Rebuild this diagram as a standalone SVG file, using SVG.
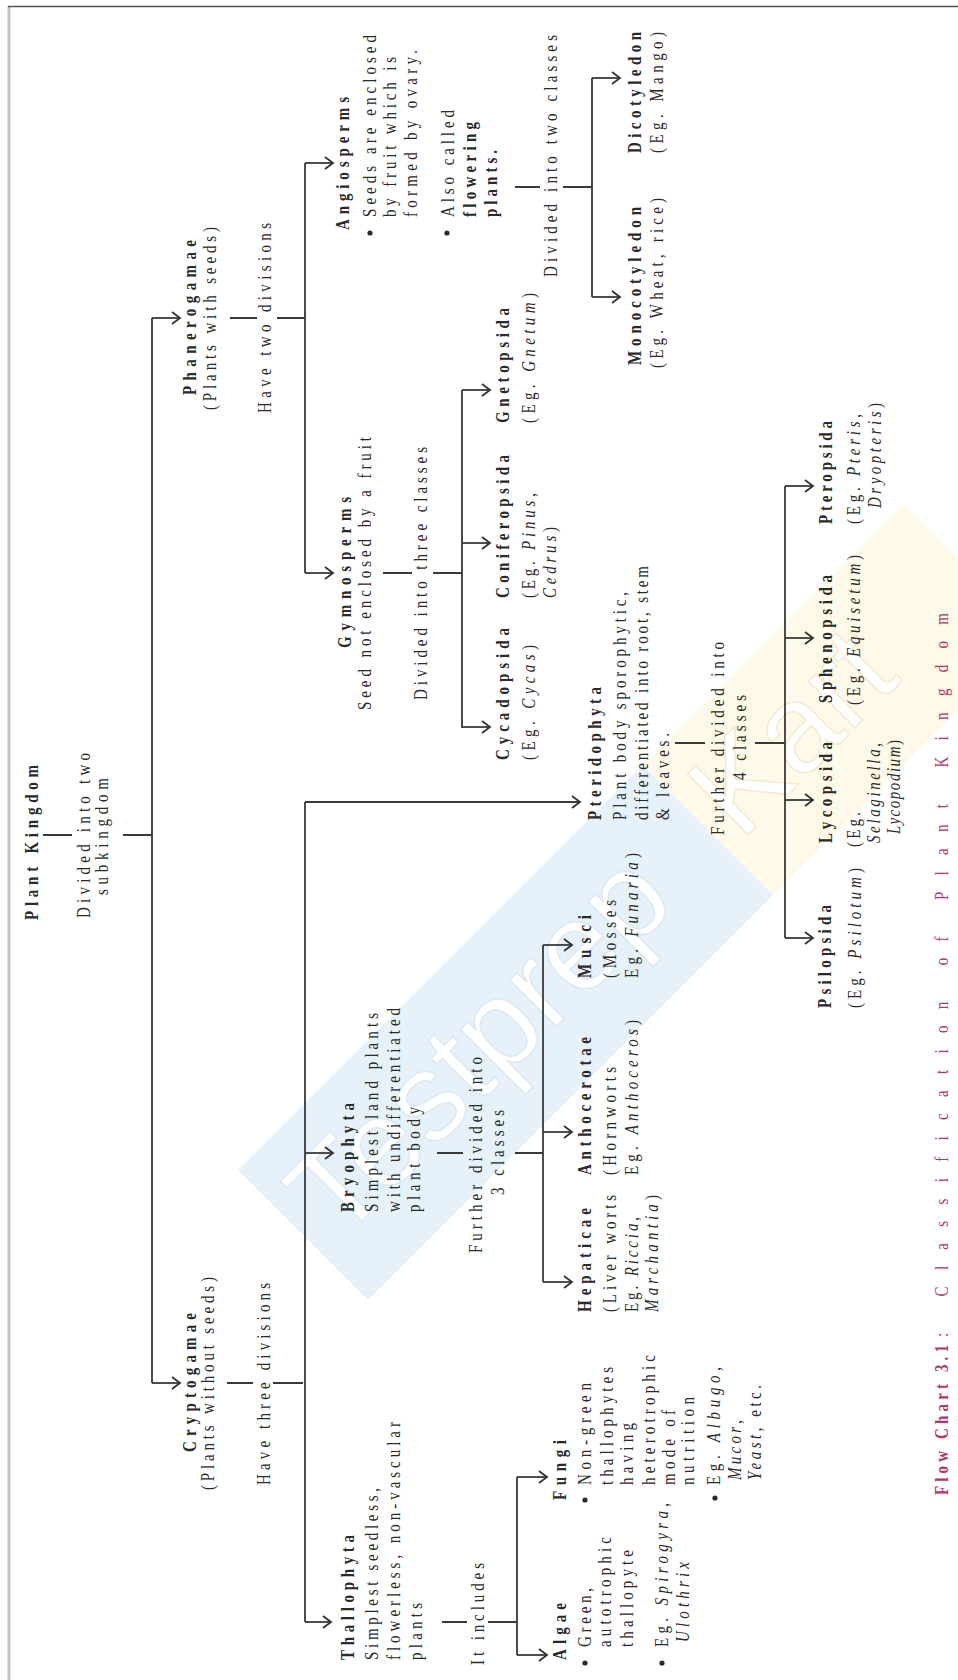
<svg xmlns="http://www.w3.org/2000/svg" width="958" height="1680" viewBox="0 0 958 1680">
<defs>
<marker id="ah" markerUnits="userSpaceOnUse" markerWidth="14" markerHeight="16" refX="10" refY="8" orient="auto"><path d="M2,2 L10,8 L2,14" fill="none" stroke="#333" stroke-width="1.8"/></marker>
</defs>
<style>
text{font-family:"Liberation Serif","Times New Roman",serif;font-size:15px;fill:#2a2a2a}
.b{font-weight:bold}
.i{font-style:italic}
.cap{fill:#b8336a}
.ln{stroke:#3a3a3a;stroke-width:1.8;fill:none}
.ar{marker-end:url(#ah)}
.wm{font-family:"Liberation Sans",Arial,sans-serif;font-size:125px;fill:#ffffff;stroke:#dce8f3;stroke-width:1.5}
.wk{stroke:#f3ead0}
</style>
<rect width="958" height="1680" fill="#ffffff"/>
<g id="watermark">
<polygon points="238,1170 643,765 773,895 368,1300" fill="#e7f1fa"/>
<polygon points="643,765 904,504 1034,634 773,895" fill="#fef9e8"/>
<text class="wm" transform="translate(339,1244) rotate(-45)">Testprep</text>
<text class="wm wk" transform="translate(741,842) rotate(-45)">Kart</text>
</g>
<g id="frame">
<line x1="9" y1="6" x2="9" y2="1680" stroke="#c4c4c4" stroke-width="3"/>
<line x1="8" y1="6.5" x2="958" y2="6.5" stroke="#555" stroke-width="1.5"/>
</g>
<g transform="translate(0,1680) rotate(-90)">
<g id="connectors">
<path class="ln" d="M845,43 V72 M845,123 V152 M297,152 H1362"/>
<path class="ln ar" d="M1362,152 V180"/>
<path class="ln ar" d="M297,152 V180"/>
<path class="ln" d="M1362,230 V257 M1362,277 V305 M1107,305 H1517"/>
<path class="ln ar" d="M1517,305 V333"/>
<path class="ln ar" d="M1107,305 V333"/>
<path class="ln" d="M1493,515 V540 M1493,563 V592 M1383,592 H1602"/>
<path class="ln ar" d="M1602,592 V620"/>
<path class="ln ar" d="M1383,592 V620"/>
<path class="ln" d="M1107,383 V412 M1107,433 V462 M952,462 H1290"/>
<path class="ln ar" d="M1290,462 V490"/>
<path class="ln ar" d="M1137,462 V490"/>
<path class="ln ar" d="M953,462 V490"/>
<path class="ln" d="M297,227 V253 M297,273 V303 M58,305 H878"/>
<path class="ln ar" d="M878,305 V580"/>
<path class="ln ar" d="M527,305 V333"/>
<path class="ln ar" d="M58,305 V331"/>
<path class="ln" d="M937,675 V705 M937,755 V785 M742,785 H1194"/>
<path class="ln ar" d="M1194,785 V813"/>
<path class="ln ar" d="M1042,785 V813"/>
<path class="ln ar" d="M880,785 V813"/>
<path class="ln ar" d="M742,785 V813"/>
<path class="ln" d="M527,437 V463 M527,515 V543 M398,543 H735"/>
<path class="ln ar" d="M735,543 V572"/>
<path class="ln ar" d="M548,543 V572"/>
<path class="ln ar" d="M398,543 V572"/>
<path class="ln" d="M58,442 V467 M58,488 V517 M25,517 H203"/>
<path class="ln ar" d="M25,517 V547"/>
<path class="ln ar" d="M203,517 V547"/>
<text transform="translate(762,90) scale(1,1.3)" textLength="165">Divided into two</text>
<text transform="translate(785,108) scale(1,1.3)" textLength="117">subkingdom</text>
<text transform="translate(1267,271) scale(1,1.3)" textLength="190">Have two divisions</text>
<text transform="translate(195,270) scale(1,1.3)" textLength="202">Have three divisions</text>
<text transform="translate(1403,557) scale(1,1.3)" textLength="242">Divided into two classes</text>
<text transform="translate(980,427) scale(1,1.3)" textLength="253">Divided into three classes</text>
<text transform="translate(845,724) scale(1,1.3)" textLength="193">Further divided into</text>
<text transform="translate(900,746) scale(1,1.3)" textLength="85">4 classes</text>
<text transform="translate(427,482) scale(1,1.3)" textLength="196">Further divided into</text>
<text transform="translate(485,504) scale(1,1.3)" textLength="85">3 classes</text>
<text transform="translate(15,484) scale(1,1.3)" textLength="102">It includes</text>
</g>
<g id="plant-kingdom">
<text class="b" transform="translate(760,38) scale(1,1.3)" textLength="155">Plant Kingdom</text>
</g>
<g id="phanerogamae">
<text class="b" transform="translate(1285,196) scale(1,1.3)" textLength="155">Phanerogamae</text>
<text transform="translate(1270,216) scale(1,1.3)" textLength="183">(Plants with seeds)</text>
</g>
<g id="cryptogamae">
<text class="b" transform="translate(228,196) scale(1,1.3)" textLength="139">Cryptogamae</text>
<text transform="translate(190,214) scale(1,1.3)" textLength="213">(Plants without seeds)</text>
</g>
<g id="angiosperms">
<text class="b" transform="translate(1450,349) scale(1,1.3)" textLength="133">Angiosperms</text>
<circle cx="1447" cy="370" r="2.6" fill="#2a2a2a"/>
<text transform="translate(1463,376) scale(1,1.3)" textLength="182">Seeds are enclosed</text>
<text transform="translate(1463,396) scale(1,1.3)" textLength="160">by fruit which is</text>
<text transform="translate(1463,417) scale(1,1.3)" textLength="167">formed by ovary.</text>
<circle cx="1447" cy="447" r="2.6" fill="#2a2a2a"/>
<text transform="translate(1463,454) scale(1,1.3)" textLength="107">Also called</text>
<text class="b" transform="translate(1463,476) scale(1,1.3)" textLength="95">flowering</text>
<text class="b" transform="translate(1463,497) scale(1,1.3)" textLength="67">plants.</text>
</g>
<g id="dicotyledon">
<text class="b" transform="translate(1527,641) scale(1,1.3)" textLength="121">Dicotyledon</text>
<text transform="translate(1527,663) scale(1,1.3)" textLength="121">(Eg. Mango)</text>
</g>
<g id="monocotyledon">
<text class="b" transform="translate(1315,641) scale(1,1.3)" textLength="158">Monocotyledon</text>
<text transform="translate(1312,663) scale(1,1.3)" textLength="170">(Eg. Wheat, rice)</text>
</g>
<g id="gymnosperms">
<text class="b" transform="translate(1032,351) scale(1,1.3)" textLength="151">Gymnosperms</text>
<text transform="translate(970,371) scale(1,1.3)" textLength="273">Seed not enclosed by a fruit</text>
</g>
<g id="gnetopsida">
<text class="b" transform="translate(1257,509) scale(1,1.3)" textLength="115">Gnetopsida</text>
<text transform="translate(1257,535) scale(1,1.3)" textLength="130">(Eg. <tspan class="i">Gnetum</tspan>)</text>
</g>
<g id="coniferopsida">
<text class="b" transform="translate(1082,509) scale(1,1.3)" textLength="143">Coniferopsida</text>
<text transform="translate(1082,535) scale(1,1.3)" textLength="105">(Eg. <tspan class="i">Pinus</tspan>,</text>
<text transform="translate(1082,556) scale(1,1.3)" textLength="71"><tspan class="i">Cedrus</tspan>)</text>
</g>
<g id="cycadopsida">
<text class="b" transform="translate(920,509) scale(1,1.3)" textLength="132">Cycadopsida</text>
<text transform="translate(920,535) scale(1,1.3)" textLength="115">(Eg. <tspan class="i">Cycas</tspan>)</text>
</g>
<g id="pteridophyta">
<text class="b" transform="translate(860,601) scale(1,1.3)" textLength="133">Pteridophyta</text>
<text transform="translate(860,626) scale(1,1.3)" textLength="228">Plant body sporophytic,</text>
<text transform="translate(860,648) scale(1,1.3)" textLength="254">differentiated into root, stem</text>
<text transform="translate(860,669) scale(1,1.3)" textLength="87">&amp; leaves.</text>
</g>
<g id="pteropsida">
<text class="b" transform="translate(1156,832) scale(1,1.3)" textLength="103">Pteropsida</text>
<text transform="translate(1156,860) scale(1,1.3)" textLength="110">(Eg. <tspan class="i">Pteris</tspan>,</text>
<text transform="translate(1172,881) scale(1,1.3)" textLength="105"><tspan class="i">Dryopteris</tspan>)</text>
</g>
<g id="sphenopsida">
<text class="b" transform="translate(977,832) scale(1,1.3)" textLength="128">Sphenopsida</text>
<text transform="translate(975,860) scale(1,1.3)" textLength="150">(Eg. <tspan class="i">Equisetum</tspan>)</text>
</g>
<g id="lycopsida">
<text class="b" transform="translate(837,832) scale(1,1.3)" textLength="101">Lycopsida</text>
<text transform="translate(833,860) scale(1,1.3)" textLength="35">(Eg.</text>
<text transform="translate(837,880) scale(1,1.3)" textLength="100"><tspan class="i">Selaginella</tspan>,</text>
<text transform="translate(846,900) scale(1,1.3)" textLength="94"><tspan class="i">Lycopodium</tspan>)</text>
</g>
<g id="psilopsida">
<text class="b" transform="translate(672,831) scale(1,1.3)" textLength="103">Psilopsida</text>
<text transform="translate(672,861) scale(1,1.3)" textLength="140">(Eg. <tspan class="i">Psilotum</tspan>)</text>
</g>
<g id="bryophyta">
<text class="b" transform="translate(468,354) scale(1,1.3)" textLength="109">Bryophyta</text>
<text transform="translate(468,378) scale(1,1.3)" textLength="199">Simplest land plants</text>
<text transform="translate(468,400) scale(1,1.3)" textLength="204">with undifferentiated</text>
<text transform="translate(468,420) scale(1,1.3)" textLength="105">plant body</text>
</g>
<g id="musci">
<text class="b" transform="translate(702,591) scale(1,1.3)" textLength="63">Musci</text>
<text transform="translate(702,616) scale(1,1.3)" textLength="78">(Mosses</text>
<text transform="translate(702,638) scale(1,1.3)" textLength="125">Eg. <tspan class="i">Funaria</tspan>)</text>
</g>
<g id="anthocerotae">
<text class="b" transform="translate(505,591) scale(1,1.3)" textLength="138">Anthocerotae</text>
<text transform="translate(505,616) scale(1,1.3)" textLength="108">(Hornworts</text>
<text transform="translate(505,638) scale(1,1.3)" textLength="155">Eg. <tspan class="i">Anthoceros</tspan>)</text>
</g>
<g id="hepaticae">
<text class="b" transform="translate(368,591) scale(1,1.3)" textLength="104">Hepaticae</text>
<text transform="translate(368,616) scale(1,1.3)" textLength="117">(Liver worts</text>
<text transform="translate(368,638) scale(1,1.3)" textLength="95">Eg. <tspan class="i">Riccia</tspan>,</text>
<text transform="translate(368,658) scale(1,1.3)" textLength="117"><tspan class="i">Marchantia</tspan>)</text>
</g>
<g id="thallophyta">
<text class="b" transform="translate(20,354) scale(1,1.3)" textLength="125">Thallophyta</text>
<text transform="translate(20,378) scale(1,1.3)" textLength="172">Simplest seedless,</text>
<text transform="translate(20,400) scale(1,1.3)" textLength="238">flowerless, non-vascular</text>
<text transform="translate(20,422) scale(1,1.3)" textLength="57">plants</text>
</g>
<g id="algae">
<text class="b" transform="translate(20,566) scale(1,1.3)" textLength="57">Algae</text>
<circle cx="17" cy="585" r="2.6" fill="#2a2a2a"/>
<text transform="translate(33,591) scale(1,1.3)" textLength="59">Green,</text>
<text transform="translate(33,611) scale(1,1.3)" textLength="110">autotrophic</text>
<text transform="translate(33,633) scale(1,1.3)" textLength="97">thallopyte</text>
<circle cx="17" cy="662" r="2.6" fill="#2a2a2a"/>
<text transform="translate(33,668) scale(1,1.3)" textLength="144">Eg. <tspan class="i">Spirogyra</tspan>,</text>
<text transform="translate(38,689) scale(1,1.3)" textLength="80"><tspan class="i">Ulothrix</tspan></text>
</g>
<g id="fungi">
<text class="b" transform="translate(180,566) scale(1,1.3)" textLength="60">Fungi</text>
<circle cx="180" cy="585" r="2.6" fill="#2a2a2a"/>
<text transform="translate(195,591) scale(1,1.3)" textLength="102">Non-green</text>
<text transform="translate(195,613) scale(1,1.3)" textLength="118">thallophytes</text>
<text transform="translate(195,633) scale(1,1.3)" textLength="62">having</text>
<text transform="translate(195,655) scale(1,1.3)" textLength="130">heterotrophic</text>
<text transform="translate(195,675) scale(1,1.3)" textLength="75">mode of</text>
<text transform="translate(195,694) scale(1,1.3)" textLength="88">nutrition</text>
<circle cx="182" cy="715" r="2.6" fill="#2a2a2a"/>
<text transform="translate(195,720) scale(1,1.3)" textLength="118">Eg. <tspan class="i">Albugo</tspan>,</text>
<text transform="translate(200,741) scale(1,1.3)" textLength="60"><tspan class="i">Mucor</tspan>,</text>
<text transform="translate(200,761) scale(1,1.3)" textLength="95"><tspan class="i">Yeast</tspan>, etc.</text>
</g>
<g id="caption">
<text class="cap b" transform="translate(185,948) scale(1,1.3)" textLength="150">Flow Chart 3.1</text>
<text class="cap" transform="translate(343,948) scale(1,1.3)" textLength="724">: Classification of Plant Kingdom</text>
</g>
</g>
</svg>
